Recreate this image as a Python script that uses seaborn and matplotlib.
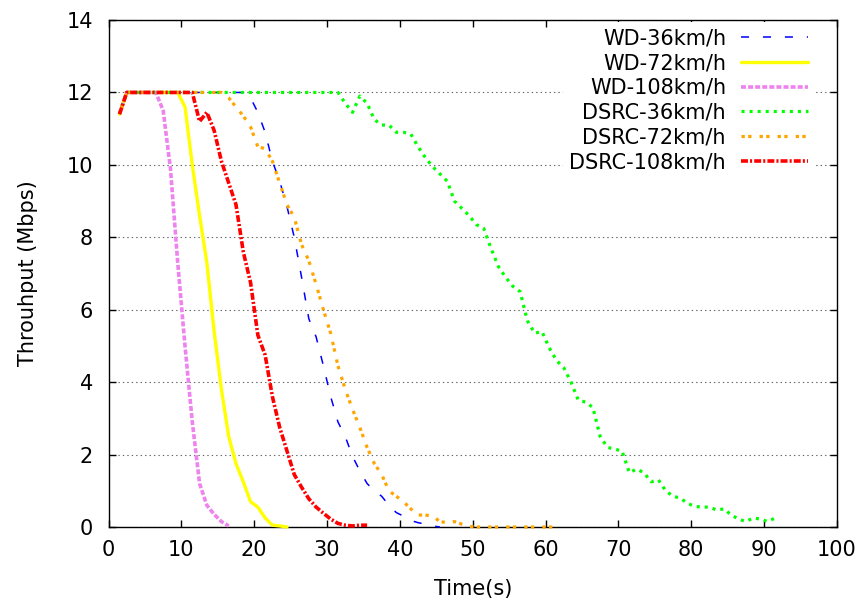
import numpy as np
import pandas as pd
import matplotlib
matplotlib.use('Agg')
import matplotlib.pyplot as plt
import seaborn as sns

# sampling instants (one value per second, taken mid-interval)
time_s = np.arange(1.5, 92.5, 1.0)

wd_36 = [11.4, 12, 12, 12, 12, 12, 12, 12, 12, 12,
         12, 12, 12, 12, 12, 12, 12, 12, 11.85, 11.45,
         10.9, 10.1, 9.55, 8.85, 8.0, 6.9, 5.75, 5.25, 4.45, 3.6,
         2.9, 2.5, 1.95, 1.55, 1.2, 1.0, 0.85, 0.6, 0.4, 0.3,
         0.18, 0.12, 0.08, 0.03, 0.0]

wd_72 = [11.4, 12, 12, 12, 12, 12, 12, 12, 12, 11.6,
         10.0, 8.6, 7.3, 5.4, 3.8, 2.5, 1.75, 1.25, 0.7, 0.55,
         0.25, 0.05, 0.03, 0.0]

wd_108 = [11.4, 12, 12, 12, 12, 12, 11.5, 9.9, 7.3, 5.0,
          2.9, 1.2, 0.6, 0.35, 0.15, 0.03]

dsrc_36 = [11.4, 12, 12, 12, 12, 12, 12, 12, 12, 12,
           12, 12, 12, 12, 12, 12, 12, 12, 12, 12,
           12, 12, 12, 12, 12, 12, 12, 12, 12, 12,
           12, 11.7, 11.45, 11.9, 11.7, 11.25, 11.1, 11.1, 10.9, 10.9,
           10.85, 10.5, 10.2, 9.95, 9.75, 9.55, 9.0, 8.8, 8.6, 8.35,
           8.25, 7.7, 7.2, 6.9, 6.65, 6.5, 5.7, 5.35, 5.4, 4.95,
           4.6, 4.4, 4.0, 3.5, 3.45, 3.3, 2.5, 2.2, 2.15, 2.1,
           1.5, 1.6, 1.5, 1.25, 1.3, 1.0, 0.85, 0.8, 0.65, 0.57,
           0.55, 0.55, 0.47, 0.5, 0.33, 0.22, 0.15, 0.25, 0.22, 0.15,
           0.25]

dsrc_72 = [11.4, 12, 12, 12, 12, 12, 12, 12, 12, 12,
           12, 12, 12, 12, 12, 11.85, 11.6, 11.35, 11.05, 10.5,
           10.45, 10.1, 9.5, 8.9, 8.55, 7.8, 7.35, 6.7, 6.0, 5.35,
           4.45, 3.8, 3.25, 2.75, 2.2, 1.75, 1.45, 1.0, 0.85, 0.7,
           0.5, 0.33, 0.33, 0.3, 0.15, 0.12, 0.15, 0.08, 0.02, 0.0,
           0.0, 0.0, 0.0, 0.0, 0.0, 0.0, 0.0, 0.0, 0.0, 0.0,
           0.0]

dsrc_108 = [11.4, 12, 12, 12, 12, 12, 12, 12, 12, 12,
            12, 11.2, 11.45, 10.95, 10.1, 9.5, 8.9, 7.6, 6.75, 5.3,
            4.75, 3.6, 2.75, 2.1, 1.45, 1.1, 0.78, 0.55, 0.38, 0.22,
            0.1, 0.05, 0.03, 0.05, 0.05]

labels = ['WD-36km/h', 'WD-72km/h', 'WD-108km/h',
          'DSRC-36km/h', 'DSRC-72km/h', 'DSRC-108km/h']
values = [wd_36, wd_72, wd_108, dsrc_36, dsrc_72, dsrc_108]

colors = ['#0000ff', '#ffff00', '#ee82ee', '#00ff00', '#ffa500', '#ff0000']
widths = [1.1, 2.4, 2.6, 2.3, 2.3, 2.6]
styles = [(0, (5.8, 10.0)),
          '-',
          (0, (3.6, 1.5)),
          (0, (2.2, 3.6)),
          (0, (2.4, 2.4, 2.4, 5.8)),
          (0, (5.0, 1.5, 1.5, 1.5))]

sns.set_style('ticks')
plt.rcParams['font.family'] = ['DejaVu Sans']
plt.rcParams['lines.scale_dashes'] = False
plt.rcParams['text.color'] = 'black'
plt.rcParams['axes.labelcolor'] = 'black'

fig = plt.figure(figsize=(8.62, 6.03), dpi=100)
ax = fig.add_axes([0.1259, 0.126, 0.845, 0.8408])

for lab, vals, col, lw, ls in zip(labels, values, colors, widths, styles):
    df = pd.DataFrame({'t': time_s[:len(vals)], 'thr': vals})
    sns.lineplot(data=df, x='t', y='thr', ax=ax, color=col, lw=lw,
                 linestyle=ls, label=lab, clip_on=False, zorder=3)

ax.set_xlim(0, 100)
ax.set_ylim(0, 14)
ax.set_xticks(np.arange(0, 101, 10))
ax.set_yticks(np.arange(0, 15, 2))
ax.yaxis.grid(True, linestyle=(0, (1, 2.2)), color='#666666', lw=0.8)
ax.xaxis.grid(False)
ax.set_axisbelow(True)

for sp in ax.spines.values():
    sp.set_visible(True)
    sp.set_linewidth(1.0)
    sp.set_color('black')

ax.tick_params(direction='in', top=True, right=True, length=5, width=1,
               labelsize=15, colors='black')
ax.tick_params(axis='x', pad=9)
ax.tick_params(axis='y', pad=11)

ax.set_xlabel('Time(s)', fontsize=15, labelpad=14)
ax.set_ylabel('Throuhput (Mbps)', fontsize=15, labelpad=21)

leg = ax.legend(loc='upper right', bbox_to_anchor=(0.9684, 0.996),
                markerfirst=False, frameon=True, fancybox=False,
                fontsize=15, handlelength=3.2, handletextpad=0.72,
                labelspacing=0.23, borderpad=0.3, borderaxespad=0)
leg.get_frame().set_facecolor('white')
leg.get_frame().set_edgecolor('none')
leg.get_frame().set_alpha(1)
for txt in leg.get_texts():
    txt.set_color('black')

fig.savefig('out.png', dpi=100)
